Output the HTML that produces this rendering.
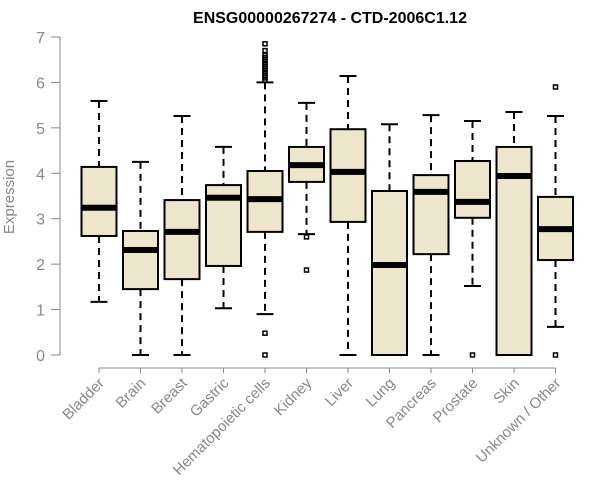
<!DOCTYPE html>
<html><head><meta charset="utf-8"><style>
body{margin:0;background:#fff}
svg{display:block;font-family:"Liberation Sans",Arial,sans-serif}
</style></head><body>
<svg id="chart" width="600" height="500">
<text x="330" y="23" text-anchor="middle" font-weight="bold" font-size="16">ENSG00000267274 - CTD-2006C1.12</text>
<text transform="translate(14,197) rotate(-90)" text-anchor="middle" font-size="15" fill="#888">Expression</text>
<g id="axes"></g>
<g id="boxes"></g>
</svg>
<script>
const categories=["Bladder","Brain","Breast","Gastric","Hematopoietic cells","Kidney","Liver","Lung","Pancreas","Prostate","Skin","Unknown / Other"];
const whiskerLow=[1.17,0,0,1.03,0.9,2.66,0,0,0,1.52,0,0.62];
const q1=[2.62,1.45,1.67,1.96,2.71,3.81,2.93,0,2.22,3.02,0,2.09];
const medians=[3.24,2.31,2.71,3.46,3.43,4.18,4.03,1.98,3.59,3.37,3.94,2.77];
const q3=[4.14,2.73,3.41,3.74,4.05,4.58,4.97,3.61,3.96,4.27,4.58,3.48];
const whiskerHigh=[5.59,4.25,5.26,4.58,6.0,5.55,6.14,5.08,5.28,5.15,5.35,5.26];
const outliers=[[],[],[],[],[0,0.48,6.05,6.1,6.15,6.2,6.25,6.3,6.35,6.4,6.45,6.5,6.55,6.6,6.7,6.85],[2.6,1.87],[],[],[],[0],[],[0,5.9]];
const yTicks=[0,1,2,3,4,5,6,7];
const NS="http://www.w3.org/2000/svg";
const y=v=>355-v*45.43;
const x=i=>99+i*41.5;
function mk(p,tag,at){const e=document.createElementNS(NS,tag);for(const k in at)e.setAttribute(k,at[k]);p.appendChild(e);return e;}
const ax=document.getElementById('axes'),bx=document.getElementById('boxes');
const yl=mk(ax,'line',{x1:60,x2:60,y1:y(0),y2:y(7),stroke:'#888'});


yTicks.forEach(t=>{
 mk(ax,'line',{x1:51,x2:60,y1:y(t),y2:y(t),stroke:'#888'});
 const tx=mk(ax,'text',{x:45,y:y(t)+6,'text-anchor':'end','font-size':16,fill:'#888'});
 tx.textContent=t;
 
 
});
const xl=mk(ax,'line',{x1:x(0),x2:x(categories.length-1),y1:368,y2:368,stroke:'#888'});


categories.forEach((c,i)=>{
 const cx=x(i);
 mk(ax,'line',{x1:cx,x2:cx,y1:368,y2:373,stroke:'#888'});
 const tx=mk(ax,'text',{transform:`translate(${cx+6},${384}) rotate(-45)`,'text-anchor':'end','font-size':15,fill:'#888'});
 tx.textContent=c;
 
 
 const g=mk(bx,'g',{});
 
 
 const hw=17.5,cw=8.5;
 mk(g,'line',{x1:cx,x2:cx,y1:y(whiskerHigh[i]),y2:y(q3[i]),stroke:'#000','stroke-width':2,'stroke-dasharray':'7,5'});
 mk(g,'line',{x1:cx,x2:cx,y1:y(q1[i]),y2:y(whiskerLow[i]),stroke:'#000','stroke-width':2,'stroke-dasharray':'7,5'});
 mk(g,'line',{x1:cx-cw,x2:cx+cw,y1:y(whiskerHigh[i]),y2:y(whiskerHigh[i]),stroke:'#000','stroke-width':2});
 mk(g,'line',{x1:cx-cw,x2:cx+cw,y1:y(whiskerLow[i]),y2:y(whiskerLow[i]),stroke:'#000','stroke-width':2});
 mk(g,'rect',{x:cx-hw,y:y(q3[i]),width:hw*2,height:y(q1[i])-y(q3[i]),fill:'#ede6cc',stroke:'#000','stroke-width':2});
 mk(g,'line',{x1:cx-hw,x2:cx+hw,y1:y(medians[i]),y2:y(medians[i]),stroke:'#000','stroke-width':6});
 outliers[i].forEach(o=>mk(g,'rect',{x:cx-2,y:y(o)-2,width:4,height:4,fill:'none',stroke:'#000','stroke-width':1.5}));
});
</script>
</body></html>
